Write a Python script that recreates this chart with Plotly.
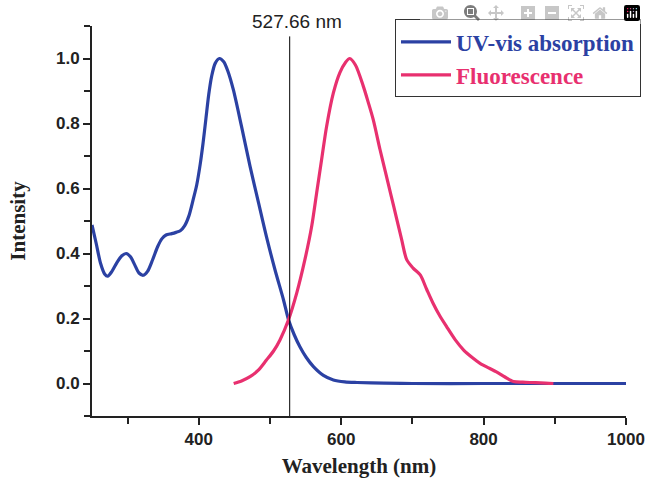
import plotly.graph_objects as go

# ---- data ----
uv_wavelength = [250, 256, 262, 268, 272, 278, 285, 292, 298, 304, 310, 316, 322, 328, 335, 342,
                 348, 354, 362, 368, 374, 380, 386, 392, 397, 402, 406, 410, 414, 418, 423, 429,
                 435, 441, 448.5, 460, 472, 484, 495, 507, 519, 526, 534, 542, 551, 561, 575,
                 589, 605, 622, 660, 700, 800, 900, 1000]
uv_intensity = [0.488, 0.43, 0.37, 0.336, 0.330, 0.345, 0.372, 0.393, 0.400, 0.390, 0.365, 0.340,
                0.333, 0.345, 0.38, 0.42, 0.445, 0.457, 0.461, 0.465, 0.470, 0.485, 0.515, 0.565,
                0.61, 0.675, 0.74, 0.815, 0.89, 0.945, 0.985, 1.0, 0.99, 0.96, 0.904, 0.791,
                0.668, 0.555, 0.452, 0.35, 0.257, 0.196, 0.15, 0.113, 0.08, 0.052, 0.025, 0.011,
                0.005, 0.003, 0.001, 0.0, 0.0, 0.0, 0.0]

fl_wavelength = [449, 460, 472, 484, 495, 505, 514, 526, 537.5, 549, 558.5, 565.5, 572.5, 579.5,
                 589, 598, 606, 612, 620, 631, 638, 645, 654.5, 662, 670, 678, 685, 692, 701,
                 711, 720, 729, 738, 748, 760, 772, 784, 795, 807, 818, 830, 842, 855, 865, 880,
                 898]
fl_intensity = [0.0, 0.008, 0.021, 0.042, 0.072, 0.10, 0.134, 0.196, 0.278, 0.381, 0.483, 0.586,
                0.689, 0.791, 0.894, 0.956, 0.988, 1.0, 0.98, 0.915, 0.865, 0.812, 0.72, 0.652,
                0.579, 0.506, 0.442, 0.381, 0.355, 0.334, 0.29, 0.247, 0.21, 0.175, 0.135, 0.103,
                0.08, 0.062, 0.048, 0.036, 0.02, 0.006, 0.004, 0.003, 0.002, 0.0]

crossing_nm = 527.66
crossing_label = "527.66 nm"

x_ticks = [400, 600, 800, 1000]
y_ticks = [0.0, 0.2, 0.4, 0.6, 0.8, 1.0]

BLUE = "#2B41A3"
PINK = "#E8306F"

fig = go.Figure()
fig.add_trace(go.Scatter(
    x=uv_wavelength, y=uv_intensity, mode="lines",
    line=dict(color=BLUE, width=3.2, shape="spline", smoothing=0.8),
    name='<span style="color:%s">UV-vis absorption</span>' % BLUE,
))
fig.add_trace(go.Scatter(
    x=fl_wavelength, y=fl_intensity, mode="lines",
    line=dict(color=PINK, width=3.2, shape="spline", smoothing=0.8),
    name='<span style="color:%s">Fluorescence</span>' % PINK,
))

fig.add_shape(type="line", xref="x", yref="y", x0=crossing_nm, x1=crossing_nm,
              y0=-0.1, y1=1.068, line=dict(color="black", width=1))
fig.add_annotation(x=crossing_nm, xref="x", y=1.0116, yref="paper", text=crossing_label,
                   showarrow=False, xshift=7, yanchor="middle",
                   font=dict(family="Liberation Sans, Arial", size=19, color="#222222"))

tick_font = dict(family="Liberation Sans, Arial", size=17, color="#222222", weight="bold")
title_font = dict(family="Liberation Serif, Times New Roman", size=21, color="#222222", weight="bold")

fig.update_xaxes(
    range=[250, 1000], tickvals=x_ticks, ticks="outside", ticklen=7, tickwidth=2,
    tickcolor="#222222", showline=True, linewidth=2, linecolor="#222222",
    showgrid=False, zeroline=False, tickfont=tick_font, automargin=False,
    ticklabeloverflow="allow",
    minor=dict(dtick=100, tick0=0, ticks="outside", ticklen=6, tickwidth=2, tickcolor="#222222"),
    title=dict(text="Wavelength (nm)", font=title_font, standoff=10),
)
fig.update_yaxes(
    range=[-0.1, 1.1], tickvals=y_ticks, tickformat=".1f", ticks="outside", ticklen=7,
    tickwidth=2, tickcolor="#222222", showline=True, linewidth=2, linecolor="#222222",
    showgrid=False, zeroline=False, tickfont=tick_font, automargin=False,
    minor=dict(dtick=0.1, tick0=0, ticks="outside", ticklen=6, tickwidth=2, tickcolor="#222222"),
    title=dict(text="Intensity", font=title_font, standoff=25),
)

fig.update_layout(
    width=646, height=478,
    margin=dict(l=92, r=20, t=26, b=62, autoexpand=False),
    paper_bgcolor="white", plot_bgcolor="white",
    showlegend=True,
    legend=dict(
        x=0.5674, y=1.0167, xanchor="left", yanchor="top",
        bgcolor="white", bordercolor="#333333", borderwidth=1,
        font=dict(family="Liberation Serif, Times New Roman", size=23, weight="bold"),
        itemwidth=50, tracegroupgap=0,
    ),
)

# remove the page's default 8px body margin and scrollbars so the figure fills the window
fig.write_html(
    "out.html",
    post_script="document.body.style.margin='0';"
                "document.documentElement.style.overflow='hidden';"
                "document.body.style.overflow='hidden';",
)
